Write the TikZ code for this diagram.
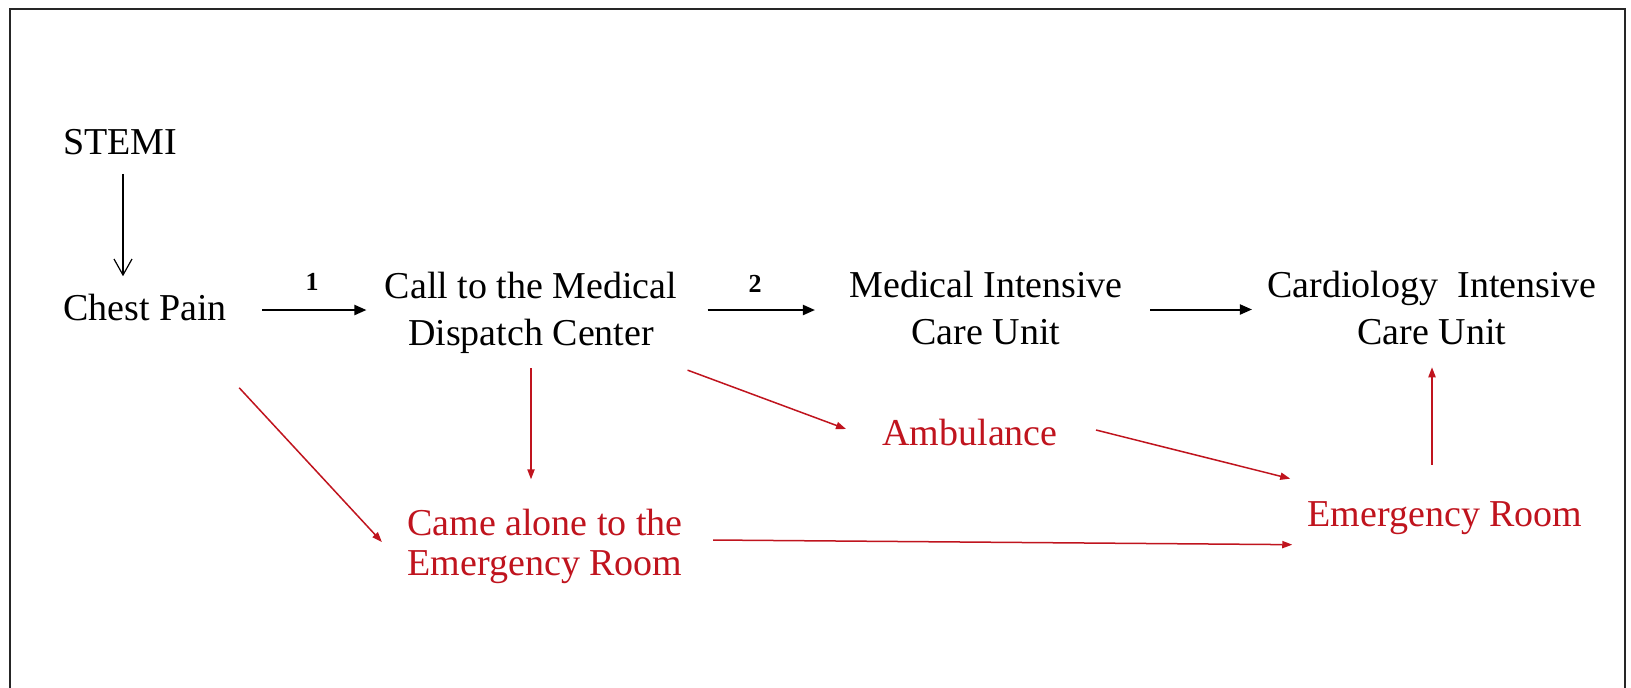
\documentclass[tikz,border=0pt]{standalone}
\usepackage{fontspec}
\setmainfont{Liberation Serif}
\usetikzlibrary{arrows.meta,calc}
\definecolor{myred}{RGB}{192,20,30}
\begin{document}
\begin{tikzpicture}[x=0.5pt,y=-0.5pt,
  txt/.style={inner sep=0pt, font=\fontsize{19pt}{23.5pt}\selectfont, align=center},
  redtxt/.style={inner sep=0pt, text=myred, font=\fontsize{19pt}{20pt}\selectfont, align=center},
  blk/.style={-{Triangle[length=6pt,width=5pt]}, line width=1pt, black},
  thinblk/.style={-{Straight Barb[length=8pt,width=9pt]}, line width=0.6pt, black},
  redarr/.style={-{Triangle[length=5pt,width=3.6pt]}, line width=0.75pt, myred},
  numlab/.style={inner sep=0pt, font=\fontsize{13pt}{15pt}\selectfont\bfseries}]
\useasboundingbox (0,0) rectangle (1631,687);
\fill[white] (0,0) rectangle (1631,687);
\draw[line width=1.4pt, black!85] (10,700) -- (10,9) -- (1625,9) -- (1625,700);

\node[txt, anchor=base] (stemi) at (120,154) {STEMI};
\node[txt, anchor=base] (cp) at (145,320) {Chest Pain};
\node[txt] (call) at (531,313) {Call to the Medical\\Dispatch Center};
\node[txt] (mi) at (986,308) {Medical Intensive\\Care Unit};
\node[txt] (ci) at (1432,308) {Cardiology\ \ Intensive\\Care Unit};
\node[redtxt] (came) at (545,546) {Came alone to the\\Emergency Room};
\node[redtxt, anchor=base] (amb) at (970,445) {Ambulance};
\node[redtxt, anchor=base] (er) at (1445,526) {Emergency Room};
\node[numlab, anchor=base] (n1) at (312,290) {1};
\node[numlab, anchor=base] (n2) at (755,292) {2};

\draw[thinblk, shorten <=9.5pt, shorten >=8.5pt] ([xshift=1.5pt]stemi.south) -- ([xshift=1.5pt]stemi.south |- cp.north);
\draw[blk, shorten <=17.5pt, shorten >=9pt] ([yshift=-1.5pt]cp.east) -- ([yshift=-1.5pt]cp.east -| call.west);
\draw[blk, shorten <=15pt, shorten >=17pt] ([yshift=1.5pt]call.east) -- ([yshift=1.5pt]call.east -| mi.west);
\draw[blk, shorten <=13.5pt, shorten >=7.5pt] ([yshift=-0.75pt]mi.east) -- ([yshift=-0.75pt]mi.east -| ci.west);

\draw[redarr] ($(cp.south east)+(12,67)$) -- ($(came.west)+(-25,-4)$);
\draw[redarr, shorten <=7pt, shorten >=14.5pt] (call.south) -- (call.south |- came.north);
\draw[redarr] ($(call.south east)+(10,16)$) -- ($(amb.west)+(-36,-3)$);
\draw[redarr] ($(amb.east)+(38,-2)$) -- ($(er.west)+(-17,-39)$);
\draw[redarr] ($(came.east)+(30,-6)$) -- ($(er.west)+(-15,27)$);
\draw[redarr, shorten <=18pt, shorten >=11pt] (ci.south |- er.north) -- (ci.south);
\end{tikzpicture}
\end{document}
